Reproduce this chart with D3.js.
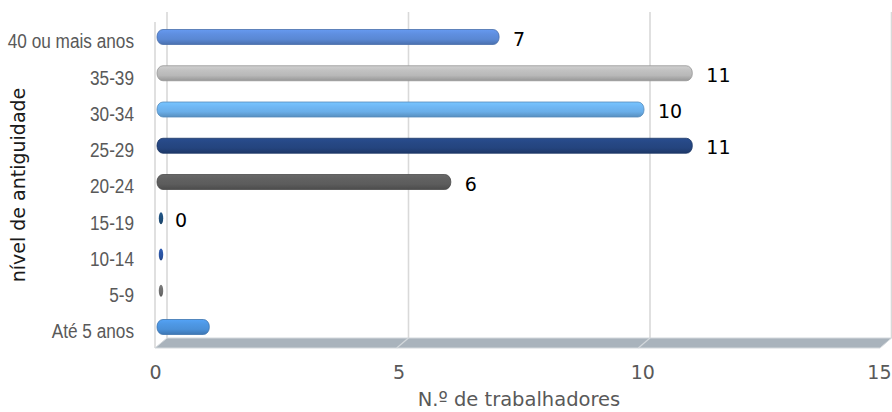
<!DOCTYPE html>
<html>
<head>
<meta charset="utf-8">
<script src="https://cdn.jsdelivr.net/npm/d3@7"></script>
<style>
  html, body { margin: 0; padding: 0; background: #ffffff; }
  svg { display: block; }
</style>
</head>
<body>
<svg id="chart" width="892" height="412"></svg>
<script>
// Seniority bands, listed from the bottom of the chart to the top
const categories = ["Até 5 anos", "5-9", "10-14", "15-19", "20-24", "25-29", "30-34", "35-39", "40 ou mais anos"];
// Number of workers in each band
const values = [1, 0, 0, 0, 6, 11, 10, 11, 7];
// Bands whose value is written next to the bar
const labelled = ["15-19", "20-24", "25-29", "30-34", "35-39", "40 ou mais anos"];
// Fill of each bar
const barColors = ["#4a90d9", "#6e6e6e", "#2a52a0", "#1f4e79", "#5c5c5c", "#24447e", "#6aaee8", "#b8b8b8", "#5a88d4"];
// Horizontal axis
const xTicks = [0, 5, 10, 15];
const xMax = 15;
const xTitle = "N.º de trabalhadores";
const yTitle = "nível de antiguidade";

const svg = d3.select("#chart");

// Pseudo-3D box: back wall, front edge and the floor between them
const floorTop = 338, floorBottom = 348, wallTop = 12;
const xBack = d3.scaleLinear().domain([0, xMax]).range([167, 891.5]);
const xFront = d3.scaleLinear().domain([0, xMax]).range([155, 880]);
const xBar = d3.scaleLinear().domain([0, xMax]).range([161, 885.5]);
const xLabel = d3.scaleLinear().domain([0, xMax]).range([155, 886]);
const y = d3.scalePoint().domain(categories).range([327, 37]);

// Back-wall gridlines
svg.append("g")
  .selectAll("line")
  .data(xTicks)
  .join("line")
  .attr("x1", d => xBack(d)).attr("x2", d => xBack(d))
  .attr("y1", wallTop).attr("y2", floorTop)
  .attr("stroke", "#d9d9d9").attr("stroke-width", 1.6);

// Front edge of the side wall
svg.append("line")
  .attr("x1", xFront(0)).attr("x2", xFront(0))
  .attr("y1", wallTop + 10).attr("y2", floorBottom)
  .attr("stroke", "#d9d9d9").attr("stroke-width", 1.6);

// Floor
svg.append("polygon")
  .attr("points", [
    [xBack(0), floorTop], [xBack(xMax), floorTop],
    [xFront(xMax), floorBottom], [xFront(0), floorBottom]
  ].map(p => p.join(",")).join(" "))
  .attr("fill", "#a9b3bc")
  .attr("stroke", "#d3d8dc").attr("stroke-width", 1);

svg.append("g")
  .selectAll("line")
  .data(xTicks.filter(d => d > 0 && d < xMax))
  .join("line")
  .attr("x1", d => xBack(d)).attr("y1", floorTop)
  .attr("x2", d => xFront(d)).attr("y2", floorBottom)
  .attr("stroke", "#d3d8dc").attr("stroke-width", 1.2);

// Cylinder-like shading for each bar colour
const defs = svg.append("defs");
barColors.forEach((c, i) => {
  const base = d3.color(c);
  const g = defs.append("linearGradient")
    .attr("id", "bar-grad-" + i)
    .attr("x1", 0).attr("y1", 0).attr("x2", 0).attr("y2", 1);
  g.append("stop").attr("offset", "0%").attr("stop-color", base.brighter(0.35));
  g.append("stop").attr("offset", "30%").attr("stop-color", base.brighter(0.15));
  g.append("stop").attr("offset", "65%").attr("stop-color", base);
  g.append("stop").attr("offset", "100%").attr("stop-color", base.darker(0.55));
});

const bars = categories.map((c, i) => ({ cat: c, value: values[i], idx: i }));
const barH = 15;

// Bars with a value
svg.append("g")
  .selectAll("rect")
  .data(bars.filter(d => d.value > 0))
  .join("rect")
  .attr("x", 157)
  .attr("y", d => y(d.cat) - barH / 2)
  .attr("width", d => xBar(d.value) - 157)
  .attr("height", barH)
  .attr("rx", 6).attr("ry", 7)
  .attr("fill", d => `url(#bar-grad-${d.idx})`)
  .attr("stroke", d => d3.color(barColors[d.idx]).darker(0.6))
  .attr("stroke-width", 0.8);

// Zero-length bars show only their end cap
svg.append("g")
  .selectAll("ellipse")
  .data(bars.filter(d => d.value === 0))
  .join("ellipse")
  .attr("cx", xBar(0))
  .attr("cy", d => y(d.cat))
  .attr("rx", 2.2).attr("ry", 6)
  .attr("fill", d => `url(#bar-grad-${d.idx})`);

// Value labels
svg.append("g")
  .selectAll("text")
  .data(bars.filter(d => labelled.includes(d.cat)))
  .join("text")
  .attr("x", d => xBar(d.value) + 14)
  .attr("y", d => y(d.cat) + 3)
  .attr("dominant-baseline", "middle")
  .attr("font-family", "DejaVu Sans, sans-serif")
  .attr("font-size", 19)
  .attr("fill", "#000000")
  .text(d => d.value);

// Category labels, horizontally condensed
svg.append("g")
  .selectAll("text")
  .data(categories)
  .join("text")
  .attr("x", 134)
  .attr("y", d => y(d) + 6)
  .attr("text-anchor", "end")
  .attr("dominant-baseline", "middle")
  .attr("font-family", "Liberation Sans, Arial, sans-serif")
  .attr("font-size", 20)
  .attr("fill", "#595959")
  .text(d => d)
  .each(function () {
    const w = this.getComputedTextLength();
    d3.select(this)
      .attr("textLength", w * 0.86)
      .attr("lengthAdjust", "spacingAndGlyphs");
  });

// Horizontal axis tick labels
const xAxis = d3.axisBottom(xLabel).tickValues(xTicks).tickSize(0).tickPadding(0);
const gx = svg.append("g").attr("transform", "translate(0,365)").call(xAxis);
gx.select(".domain").remove();
gx.selectAll("text")
  .attr("font-family", "DejaVu Sans, sans-serif")
  .attr("font-size", 19)
  .attr("fill", "#595959");
// keep the last tick label inside the frame
gx.selectAll(".tick")
  .filter(d => d === xMax)
  .select("text")
  .attr("text-anchor", "end")
  .attr("x", 891 - xLabel(xMax));

// Axis titles
svg.append("text")
  .attr("x", 519).attr("y", 400)
  .attr("text-anchor", "middle")
  .attr("dominant-baseline", "middle")
  .attr("font-family", "DejaVu Sans, sans-serif")
  .attr("font-size", 19.5)
  .attr("fill", "#595959")
  .text(xTitle);

svg.append("text")
  .attr("transform", "translate(19,185) rotate(-90)")
  .attr("text-anchor", "middle")
  .attr("dominant-baseline", "middle")
  .attr("font-family", "DejaVu Sans, sans-serif")
  .attr("font-size", 19)
  .attr("fill", "#1a1a1a")
  .text(yTitle);
</script>
</body>
</html>
